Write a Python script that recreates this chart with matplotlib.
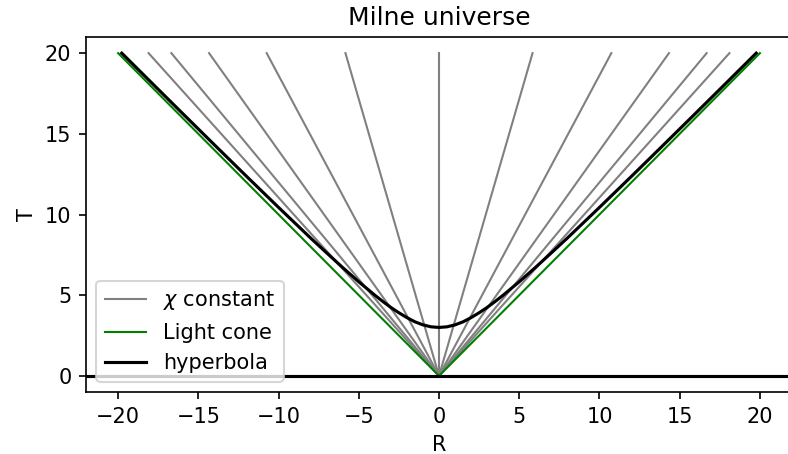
import numpy as np
import matplotlib.pyplot as plt

# end points (R at T = 20) of the chi = constant world lines
chi_R_end = [-18.10, -16.68, -14.33, -10.74, -5.83, 0.0, 5.83, 10.74, 14.33, 16.68, 18.10]
T_top = 20.0

# light cone
cone_R = [-20, 0, 20]
cone_T = [20, 0, 20]

# hyperbola points
hyp_R = [-19.77, -18, -16, -14, -12, -10, -8, -7, -6, -5, -4, -3.5, -3, -2.5, -2, -1.5, -1, -0.5,
         0, 0.5, 1, 1.5, 2, 2.5, 3, 3.5, 4, 5, 6, 7, 8, 10, 12, 14, 16, 18, 19.77]
hyp_T = [20.0, 18.25, 16.28, 14.32, 12.37, 10.44, 8.54, 7.62, 6.71, 5.83, 5.0, 4.61, 4.24, 3.91, 3.61, 3.35, 3.16, 3.04,
         3.0, 3.04, 3.16, 3.35, 3.61, 3.91, 4.24, 4.61, 5.0, 5.83, 6.71, 7.62, 8.54, 10.44, 12.37, 14.32, 16.28, 18.25, 20.0]

T_ticks = [0, 5, 10, 15, 20]

dpi = 150
fig = plt.figure(figsize=(788 / dpi, 454 / dpi), dpi=dpi)
ax = fig.add_axes([86 / 788, 62 / 454, 706 / 788, 355 / 454])

# chi constant lines
for i, r in enumerate(chi_R_end):
    ax.plot([0, r], [0, T_top], color='gray', lw=1.0, label=r'$\chi$ constant' if i == 0 else None)

ax.plot(cone_R, cone_T, color='green', lw=1.0, label='Light cone')
ax.plot(hyp_R, hyp_T, color='black', lw=1.5, label='hyperbola')
ax.axhline(0, color='black', lw=1.5)
ax.set_yticks(T_ticks)

ax.set_title('Milne universe')
ax.set_xlabel('R')
ax.set_ylabel('T')
ax.legend(loc='lower left')

plt.savefig('out.png', dpi=dpi)
